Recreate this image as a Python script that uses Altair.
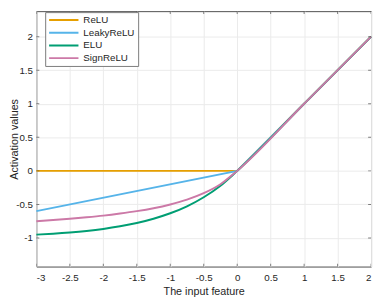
import altair as alt
import pandas as pd

series_order = ["ReLU", "LeakyReLU", "ELU", "SignReLU"]
colors = ["#E69F00", "#56B4E9", "#009E73", "#CC79A7"]

# straight-segment series
relu_x = [-3, 0, 2]
relu_y = [0, 0, 2]
leaky_x = [-3, 0, 2]
leaky_y = [-0.6, 0, 2]

# curved series
curve_x = [-3, -2.75, -2.5, -2.25, -2, -1.75, -1.5, -1.25, -1, -0.75, -0.5, -0.25, 0, 1, 2]
elu_y = [-0.95, -0.936, -0.918, -0.895, -0.865, -0.826, -0.777, -0.713, -0.632, -0.528, -0.393, -0.221, 0, 1, 2]
sign_y = [-0.75, -0.733, -0.714, -0.692, -0.667, -0.636, -0.6, -0.556, -0.5, -0.429, -0.333, -0.2, 0, 1, 2]

x_ticks = [-3, -2.5, -2, -1.5, -1, -0.5, 0, 0.5, 1, 1.5, 2]
y_ticks = [-1, -0.5, 0, 0.5, 1, 1.5, 2]

x_domain = [-3, 2]
y_domain = [-1.426, 2.38]

lin_rows = []
for name, xs, ys in [("ReLU", relu_x, relu_y), ("LeakyReLU", leaky_x, leaky_y)]:
    for a, b in zip(xs, ys):
        lin_rows.append({"x": a, "y": b, "s": name})
cur_rows = []
for name, ys in [("ELU", elu_y), ("SignReLU", sign_y)]:
    for a, b in zip(curve_x, ys):
        cur_rows.append({"x": a, "y": b, "s": name})

lin_df = pd.DataFrame(lin_rows)
cur_df = pd.DataFrame(cur_rows)
xt_df = pd.DataFrame({"t": x_ticks})
yt_df = pd.DataFrame({"t": y_ticks})

W, H = 342, 261
TXT = "#262626"

xscale = alt.Scale(domain=x_domain, nice=False, zero=False)
yscale = alt.Scale(domain=y_domain, nice=False, zero=False)
cscale = alt.Scale(domain=series_order, range=colors)

x_axis = alt.Axis(values=x_ticks, labelExpr="'' + datum.value", title="The input feature",
                  ticks=False, tickSize=0, labelPadding=6, titlePadding=4, domain=False,
                  grid=True, labelOverlap=False)
y_axis = alt.Axis(values=y_ticks, labelExpr="'' + datum.value", title="Activation values",
                  ticks=False, tickSize=0, labelPadding=4, titleX=-17, domain=False,
                  grid=True, labelOverlap=False)

legend = alt.Legend(title=None, orient="none", legendX=9, legendY=1,
                    symbolType="stroke", symbolSize=900, symbolStrokeWidth=2,
                    labelFontSize=10, labelColor=TXT, labelOffset=4, rowPadding=3,
                    clipHeight=10, padding=3, fillColor="white", strokeColor="#7a7a7a",
                    labelFont="Liberation Sans")

base_lines = alt.Chart(lin_df).mark_line(strokeWidth=2, interpolate="linear").encode(
    x=alt.X("x:Q", scale=xscale, axis=x_axis),
    y=alt.Y("y:Q", scale=yscale, axis=y_axis),
    color=alt.Color("s:N", scale=cscale, legend=legend, sort=series_order),
    detail="s:N",
)

curve_lines = alt.Chart(cur_df).mark_line(strokeWidth=2, interpolate="monotone").encode(
    x=alt.X("x:Q", scale=xscale, axis=x_axis),
    y=alt.Y("y:Q", scale=yscale, axis=y_axis),
    color=alt.Color("s:N", scale=cscale, legend=legend, sort=series_order),
    detail="s:N",
)

tick_col = "#4d4d4d"
xt_bottom = alt.Chart(xt_df).mark_tick(orient="vertical", size=6, thickness=1, clip=True,
                                        color=tick_col).encode(
    x=alt.X("t:Q", scale=xscale, axis=x_axis), y=alt.value(H))
xt_top = alt.Chart(xt_df).mark_tick(orient="vertical", size=6, thickness=1, clip=True,
                                     color=tick_col).encode(
    x=alt.X("t:Q", scale=xscale, axis=x_axis), y=alt.value(0))
yt_left = alt.Chart(yt_df).mark_tick(orient="horizontal", size=6, thickness=1, clip=True,
                                      color=tick_col).encode(
    y=alt.Y("t:Q", scale=yscale, axis=y_axis), x=alt.value(0))
yt_right = alt.Chart(yt_df).mark_tick(orient="horizontal", size=6, thickness=1, clip=True,
                                       color=tick_col).encode(
    y=alt.Y("t:Q", scale=yscale, axis=y_axis), x=alt.value(W))

chart = alt.layer(base_lines, curve_lines, xt_bottom, xt_top, yt_left, yt_right).properties(
    width=W, height=H,
    autosize=alt.AutoSizeParams(type="none"),
    padding={"left": 29, "top": 0, "right": 3, "bottom": 34},
).configure_view(
    stroke=tick_col, strokeWidth=1
).configure_axis(
    labelFont="Liberation Sans", titleFont="Liberation Sans",
    labelFontSize=10, titleFontSize=11, labelColor=TXT, titleColor=TXT,
    titleFontWeight="normal", gridColor="#ebebeb", gridWidth=1,
)

chart.save("out.html", embed_options={"renderer": "svg", "actions": False})
